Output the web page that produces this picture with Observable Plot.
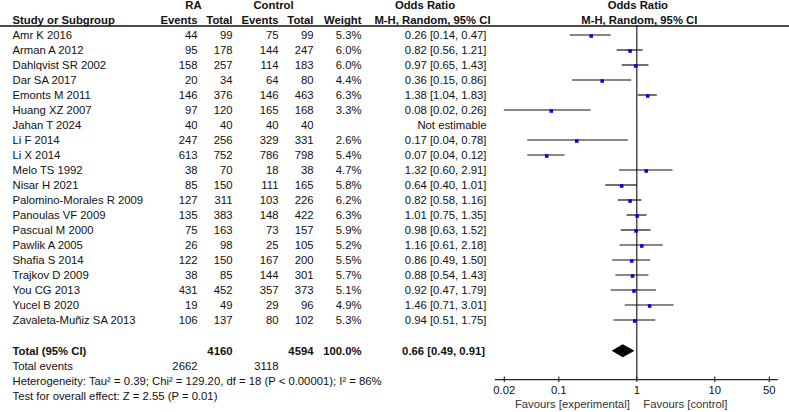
<!DOCTYPE html>
<html>
<head>
<meta charset="utf-8">
<script src="https://cdn.jsdelivr.net/npm/d3@7"></script>
<script src="https://cdn.jsdelivr.net/npm/@observablehq/plot@0.6"></script>
<style>
  html, body { margin: 0; padding: 0; background: #fff; }
  #chart { position: relative; width: 789px; height: 412px; }
  #chart svg { position: absolute; left: 0; top: 0; }
</style>
</head>
<body>
<div id="chart"></div>
<script>
// ---------- data ----------
const studies = ["Amr K 2016","Arman A 2012","Dahlqvist SR 2002","Dar SA 2017","Emonts M 2011","Huang XZ 2007","Jahan T 2024","Li F 2014","Li X 2014","Melo TS 1992","Nisar H 2021","Palomino-Morales R 2009","Panoulas VF 2009","Pascual M 2000","Pawlik A 2005","Shafia S 2014","Trajkov D 2009","You CG 2013","Yucel B 2020","Zavaleta-Muñiz SA 2013"];
const raEvents  = [44,95,158,20,146,97,40,247,613,38,85,127,135,75,26,122,38,431,19,106];
const raTotal   = [99,178,257,34,376,120,40,256,752,70,150,311,383,163,98,150,85,452,49,137];
const ctlEvents = [75,144,114,64,146,165,40,329,786,18,111,103,148,73,25,167,144,357,29,80];
const ctlTotal  = [99,247,183,80,463,168,40,331,798,38,165,226,422,157,105,200,301,373,96,102];
const weights   = [5.3,6.0,6.0,4.4,6.3,3.3,null,2.6,5.4,4.7,5.8,6.2,6.3,5.9,5.2,5.5,5.7,5.1,4.9,5.3];
const orEst     = [0.26,0.82,0.97,0.36,1.38,0.08,null,0.17,0.07,1.32,0.64,0.82,1.01,0.98,1.16,0.86,0.88,0.92,1.46,0.94];
const orLow     = [0.14,0.56,0.65,0.15,1.04,0.02,null,0.04,0.04,0.60,0.40,0.58,0.75,0.63,0.61,0.49,0.54,0.47,0.71,0.51];
const orHigh    = [0.47,1.21,1.43,0.86,1.83,0.26,null,0.78,0.12,2.91,1.01,1.16,1.35,1.52,2.18,1.50,1.43,1.79,3.01,1.75];

const total = {raTotal: 4160, ctlTotal: 4594, weight: "100.0%", or: 0.66, lo: 0.49, hi: 0.91, raEvents: 2662, ctlEvents: 3118};
const heterogeneityText = "Heterogeneity: Tau² = 0.39; Chi² = 129.20, df = 18 (P < 0.00001); I² = 86%";
const overallText = "Test for overall effect: Z = 2.55 (P = 0.01)";
const tickValues = [0.02, 0.1, 1, 10, 50];
const tickLabels = ["0.02", "0.1", "1", "10", "50"];
const favoursLeft = "Favours [experimental]";
const favoursRight = "Favours [control]";

// ---------- layout ----------
const W = 789, H = 412;
const font = "Liberation Sans, Arial, Helvetica, sans-serif";
const fs = 11.3;
const ink = "#111";
const col = {name: 12, raE: 197, raT: 232, ctE: 278, ctT: 313, w: 361, or: 486, raHead: 193, ctHead: 273, orHead1: 424.5, orHead2: 432};
const rowTotal = 21.12;
const rowAxis = 22.97;
const yScale = {domain: [-34.5 / 15, (H - 34.5) / 15], range: [0, H]};

const rows = studies.map((s, i) => ({
  i, study: s,
  raE: String(raEvents[i]), raT: String(raTotal[i]), ctE: String(ctlEvents[i]), ctT: String(ctlTotal[i]),
  w: weights[i], or: orEst[i], lo: orLow[i], hi: orHigh[i],
  orText: orEst[i] == null ? "Not estimable"
    : `${orEst[i].toFixed(2)} [${orLow[i].toFixed(2)}, ${orHigh[i].toFixed(2)}]`,
  wText: weights[i] == null ? "" : `${weights[i].toFixed(1)}%`
}));
const est = rows.filter(d => d.or != null);

const txt = (data, opts) => Plot.text(data, {fontFamily: font, fontSize: fs, fill: ink, ...opts});
const lbl = (s, opts) => txt([String(s)], {text: d => d, ...opts});

// ---------- table (pixel x scale) ----------
const table = Plot.plot({
  width: W, height: H,
  margin: 0,
  x: {domain: [0, W], range: [0, W], axis: null},
  y: {...yScale, axis: null},
  style: {fontFamily: font, background: "transparent"},
  marks: [
    // header
    lbl("RA", {x: col.raHead, y: -2, fontWeight: "bold"}),
    lbl("Control", {x: col.ctHead, y: -2, fontWeight: "bold"}),
    lbl("Odds Ratio", {x: col.orHead1, y: -2, fontWeight: "bold"}),
    lbl("Study or Subgroup", {x: col.name, y: -1, fontWeight: "bold", textAnchor: "start"}),
    lbl("Events", {x: col.raE, y: -1, fontWeight: "bold", textAnchor: "end"}),
    lbl("Total", {x: col.raT, y: -1, fontWeight: "bold", textAnchor: "end"}),
    lbl("Events", {x: col.ctE, y: -1, fontWeight: "bold", textAnchor: "end"}),
    lbl("Total", {x: col.ctT, y: -1, fontWeight: "bold", textAnchor: "end"}),
    lbl("Weight", {x: col.w, y: -1, fontWeight: "bold", textAnchor: "end"}),
    lbl("M-H, Random, 95% CI", {x: col.orHead2, y: -1, fontWeight: "bold"}),
    Plot.ruleY([-0.6], {x1: 0, x2: W, stroke: "#111", strokeWidth: 1.3}),
    // study rows
    txt(rows, {x: col.name, y: "i", text: "study", textAnchor: "start"}),
    txt(rows, {x: col.raE, y: "i", text: "raE", textAnchor: "end"}),
    txt(rows, {x: col.raT, y: "i", text: "raT", textAnchor: "end"}),
    txt(rows, {x: col.ctE, y: "i", text: "ctE", textAnchor: "end"}),
    txt(rows, {x: col.ctT, y: "i", text: "ctT", textAnchor: "end"}),
    txt(rows, {x: col.w, y: "i", text: "wText", textAnchor: "end"}),
    txt(rows, {x: col.or, y: "i", text: "orText", textAnchor: "end"}),
    // totals
    lbl("Total (95% CI)", {x: col.name, y: rowTotal, fontWeight: "bold", textAnchor: "start"}),
    lbl(total.raTotal, {x: col.raT, y: rowTotal, fontWeight: "bold", textAnchor: "end"}),
    lbl(total.ctlTotal, {x: col.ctT, y: rowTotal, fontWeight: "bold", textAnchor: "end"}),
    lbl(total.weight, {x: col.w, y: rowTotal, fontWeight: "bold", textAnchor: "end"}),
    lbl(`${total.or.toFixed(2)} [${total.lo.toFixed(2)}, ${total.hi.toFixed(2)}]`, {x: col.or - 1.5, y: rowTotal, fontWeight: "bold", textAnchor: "end"}),
    lbl("Total events", {x: col.name, y: rowTotal + 1, textAnchor: "start"}),
    lbl(total.raEvents, {x: col.raE, y: rowTotal + 1, textAnchor: "end"}),
    lbl(total.ctlEvents, {x: col.ctE, y: rowTotal + 1, textAnchor: "end"}),
    lbl(heterogeneityText, {x: col.name, y: rowTotal + 2, textAnchor: "start"}),
    lbl(overallText, {x: col.name, y: rowTotal + 3, textAnchor: "start"})
  ]
});

// ---------- forest plot (log x scale) ----------
const diamond = [
  {x: total.lo, y: rowTotal - 0.07},
  {x: total.or, y: rowTotal - 0.07 - 0.4},
  {x: total.hi, y: rowTotal - 0.07},
  {x: total.or, y: rowTotal - 0.07 + 0.4},
  {x: total.lo, y: rowTotal - 0.07}
];

const forest = Plot.plot({
  width: W, height: H,
  marginTop: 0, marginBottom: 0, marginLeft: 503.8, marginRight: W - 768.8,
  x: {type: "log", domain: [0.02, 50], axis: null},
  y: {...yScale, axis: null},
  style: {fontFamily: font, background: "transparent", overflow: "visible"},
  marks: [
    lbl("Odds Ratio", {x: 1, y: -2, fontWeight: "bold", dx: 1}),
    lbl("M-H, Random, 95% CI", {x: 1, y: -1, fontWeight: "bold", dx: 2.5}),
    Plot.ruleX([1], {y1: -0.6, y2: rowAxis, stroke: "#111", strokeWidth: 1.1}),
    Plot.ruleY(est, {y: "i", x1: "lo", x2: "hi", stroke: "#111", strokeWidth: 1.2}),
    Plot.dot(est, {x: "or", y: "i", dy: 1, symbol: "square", r: 2, fill: "#0000ee", stroke: "none"}),
    Plot.line(diamond, {x: "x", y: "y", fill: "#000", stroke: "#000", strokeWidth: 1}),
    Plot.ruleY([rowAxis], {insetLeft: -9, insetRight: -9, stroke: "#222", strokeWidth: 1.2}),
    Plot.ruleX(tickValues, {x: d => d, y1: rowAxis - 0.17, y2: rowAxis + 0.2, stroke: "#222", strokeWidth: 1.1}),
    txt(tickValues, {x: d => d, y: rowAxis + 0.73, text: (d, i) => tickLabels[i]}),
    lbl(favoursLeft, {x: 1, y: rowAxis + 1.68, textAnchor: "end", dx: -7, fill: "#333"}),
    lbl(favoursRight, {x: 1, y: rowAxis + 1.68, textAnchor: "start", dx: 6.5, fill: "#333"})
  ]
});

const chart = document.getElementById("chart");
chart.appendChild(table);
chart.appendChild(forest);
</script>
</body>
</html>
